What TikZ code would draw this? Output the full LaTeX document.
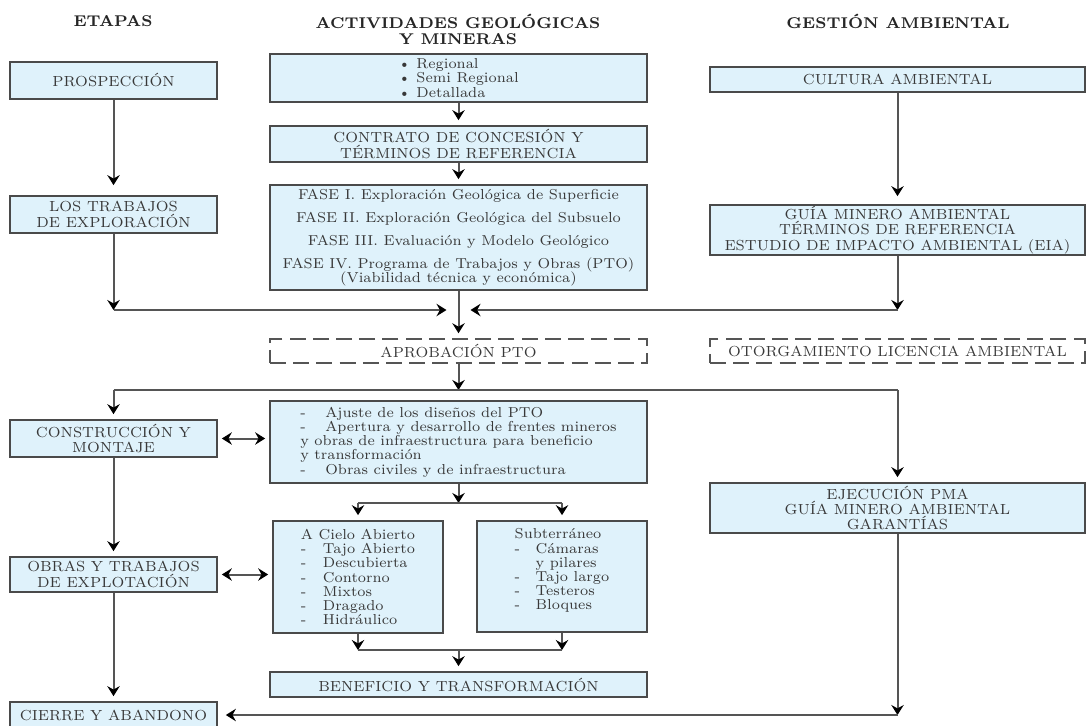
\documentclass[tikz,border=0pt]{standalone}
\usepackage{fontspec}
\setmainfont{lmroman7}[Extension=.otf, UprightFont=*-regular, BoldFont=*-bold]
\usepackage{tikz}
\usetikzlibrary{arrows.meta}

\definecolor{boxfill}{HTML}{DFF2FB}
\definecolor{boxline}{HTML}{4A4A4A}
\definecolor{linegray}{HTML}{555555}
\definecolor{txt}{HTML}{383838}

\newcommand{\boxfont}{\fontsize{7.2}{7.1}\selectfont\lineskiplimit=-10pt}
\newcommand{\capsfont}{\fontsize{7.3}{7.7}\selectfont\lineskiplimit=-10pt}
\newcommand{\headfont}{\fontsize{7.8}{8}\selectfont\bfseries}
\newcommand{\dashitem}[1][12.5pt]{\makebox[#1][l]{-}}

\tikzset{
  stage/.style 2 args={draw=boxline, fill=boxfill, line width=0.85pt, text=txt,
    align=center, inner sep=0pt, font=\boxfont,
    minimum width=#1*0.5pt, minimum height=#2*0.5pt},
  pending/.style 2 args={draw=linegray, dash pattern=on 8pt off 3.6pt, line width=0.75pt,
    text=txt, align=center, inner sep=0pt, font=\capsfont,
    minimum width=#1*0.5pt, minimum height=#2*0.5pt},
  caps/.style={font=\capsfont},
  head/.style={font=\headfont, text=black!85, align=center},
  flow/.style={draw=linegray, line width=1pt,
    -{Stealth[black, length=5pt, width=6.2pt, inset=1.7pt]}, shorten >=2.5pt},
  twoway/.style={draw=linegray, line width=1pt,
    {Stealth[black, length=5pt, width=6.2pt, inset=1.7pt]}-{Stealth[black, length=5pt, width=6.2pt, inset=1.7pt]},
    shorten >=2pt, shorten <=2pt},
  link/.style={draw=linegray, line width=1pt},
}

\begin{document}
\begin{tikzpicture}[x=0.5pt, y=-0.5pt]
    \useasboundingbox (0,0) rectangle (1086,725);

        % Column titles
        \node[head] (hEtapas)  at (113,21)  {ETAPAS};
        \node[head] (hActiv)   at (458,29)  {ACTIVIDADES GEOLÓGICAS\\Y MINERAS};
        \node[head] (hGestion) at (898,21)  {GESTIÓN AMBIENTAL};

        % Define nodes: etapas
        \node[stage={207}{37}, caps] (prosp)  at (113.5,80.5)  {PROSPECCIÓN};
        \node[stage={207}{37}, caps] (trab)   at (113.5,214.5) {LOS TRABAJOS\\DE EXPLORACIÓN};
        \node[stage={207}{37}, caps] (constr) at (113.5,438.5) {CONSTRUCCIÓN Y\\MONTAJE};
        \node[stage={207}{35}, caps] (obras)  at (113.5,574.5) {OBRAS Y TRABAJOS\\DE EXPLOTACIÓN};
        \node[stage={207}{26}, caps] (cierre) at (113.5,715)   {CIERRE Y ABANDONO};

        % Define nodes: actividades
        \node[stage={377}{48}, align=left] (regional) at (458.5,78)
            {\textbullet\ Regional\\\textbullet\ Semi Regional\\\textbullet\ Detallada};
        \node[stage={377}{36}, caps] (contrato) at (458.5,144) {CONTRATO DE CONCESIÓN Y\\TÉRMINOS DE REFERENCIA};
        \node[stage={377}{105}] (fase) at (458.5,237.5)
            {FASE I. Exploración Geológica de Superficie\\[4.4pt]
             FASE II. Exploración Geológica del Subsuelo\\[4.4pt]
             FASE III. Evaluación y Modelo Geológico\\[4.4pt]
             FASE IV. Programa de Trabajos y Obras (PTO)\\
             (Viabilidad técnica y económica)};
        \node[pending={377}{24}] (aprob) at (458.5,351) {APROBACIÓN PTO};
        \node[stage={377}{82}, align=left] (ajuste) at (458.5,442)
            {\dashitem Ajuste de los diseños del PTO\\
             \dashitem Apertura y desarrollo de frentes mineros\\
             y obras de infraestructura para beneficio\\
             y transformación\\
             \dashitem Obras civiles y de infraestructura};
        \node[stage={170}{112}, align=left] (cielo) at (358,577)
            {A Cielo Abierto\\\dashitem[11pt]Tajo Abierto\\\dashitem[11pt]Descubierta\\
             \dashitem[11pt]Contorno\\\dashitem[11pt]Mixtos\\\dashitem[11pt]Dragado\\
             \dashitem[11pt]Hidráulico};
        \node[stage={170}{111}, align=left] (subt) at (562,576.5)
            {Subterráneo\\\dashitem[10.5pt]Cámaras\\\hspace*{10.5pt}y pilares\\
             \dashitem[10.5pt]Tajo largo\\\dashitem[10.5pt]Testeros\\
             \dashitem[10.5pt]Bloques\\\mbox{}};
        \node[stage={377}{25}, caps] (benef) at (458.5,684.5) {BENEFICIO Y TRANSFORMACIÓN};

        % Define nodes: gestion ambiental
        \node[stage={375}{25}, caps] (cultura) at (897.5,79.5) {CULTURA AMBIENTAL};
        \node[stage={375}{50}, caps] (guia) at (897.5,230)
            {GUÍA MINERO AMBIENTAL\\TÉRMINOS DE REFERENCIA\\ESTUDIO DE IMPACTO AMBIENTAL (EIA)};
        \node[pending={375}{24}] (otorg) at (897.5,351) {OTORGAMIENTO LICENCIA AMBIENTAL};
        \node[stage={375}{50}, caps] (ejec) at (897.5,508)
            {EJECUCIÓN PMA\\GUÍA MINERO AMBIENTAL\\GARANTÍAS};

        % Meeting points
        \coordinate (jA) at (458.5,310);
        \coordinate (jAl) at (trab |- jA);
        \coordinate (jAr) at (guia |- jA);
        \coordinate (jB) at (458.5,390);
        \coordinate (jBl) at (constr |- jB);
        \coordinate (jBr) at (ejec |- jB);
        \coordinate (jC) at (458.5,503);
        \coordinate (jCl) at (cielo |- jC);
        \coordinate (jCr) at (subt |- jC);
        \coordinate (jD) at (458.5,650);
        \coordinate (jDl) at (cielo |- jD);
        \coordinate (jDr) at (subt |- jD);
        \coordinate (jE) at (897.5,715);

        % Connect the nodes
        \draw[flow, shorten >=5pt] (prosp) -- (trab);
        \draw[flow] (regional) -- (contrato);
        \draw[flow] (contrato) -- (fase);
        \draw[flow, shorten >=4pt] (cultura) -- (guia);
        \draw[flow, shorten >=0pt] (trab) -- (jAl);
        \draw[flow, shorten >=6pt] (jAl) -- (jA);
        \draw[flow, shorten >=0pt] (guia) -- (jAr);
        \draw[flow, shorten >=6pt] (jAr) -- (jA);
        \draw[flow] (fase) -- (aprob);
        \draw[flow, shorten >=0pt] (aprob) -- (jB);
        \draw[link] (jBl) -- (jBr);
        \draw[flow] (jBl) -- (constr);
        \draw[flow] (jBr) -- (ejec);
        \draw[twoway] (constr.east) -- (constr.east -| ajuste.west);
        \draw[flow, shorten >=0pt] (ajuste) -- (jC);
        \draw[link] (jCl) -- (jCr);
        \draw[flow] (jCl) -- (cielo);
        \draw[flow] (jCr) -- (subt);
        \draw[twoway] (obras.east) -- (obras.east -| cielo.west);
        \draw[flow, shorten >=0pt] (cielo) -- (jDl);
        \draw[flow, shorten >=0pt] (subt) -- (jDr);
        \draw[link] (jDl) -- (jDr);
        \draw[flow] (jD) -- (benef);
        \draw[flow] (constr) -- (obras);
        \draw[flow] (obras) -- (cierre);
        \draw[flow, shorten >=0pt] (ejec) -- (jE);
        \draw[flow, shorten >=4pt] (jE) -- (cierre);
\end{tikzpicture}
\end{document}
